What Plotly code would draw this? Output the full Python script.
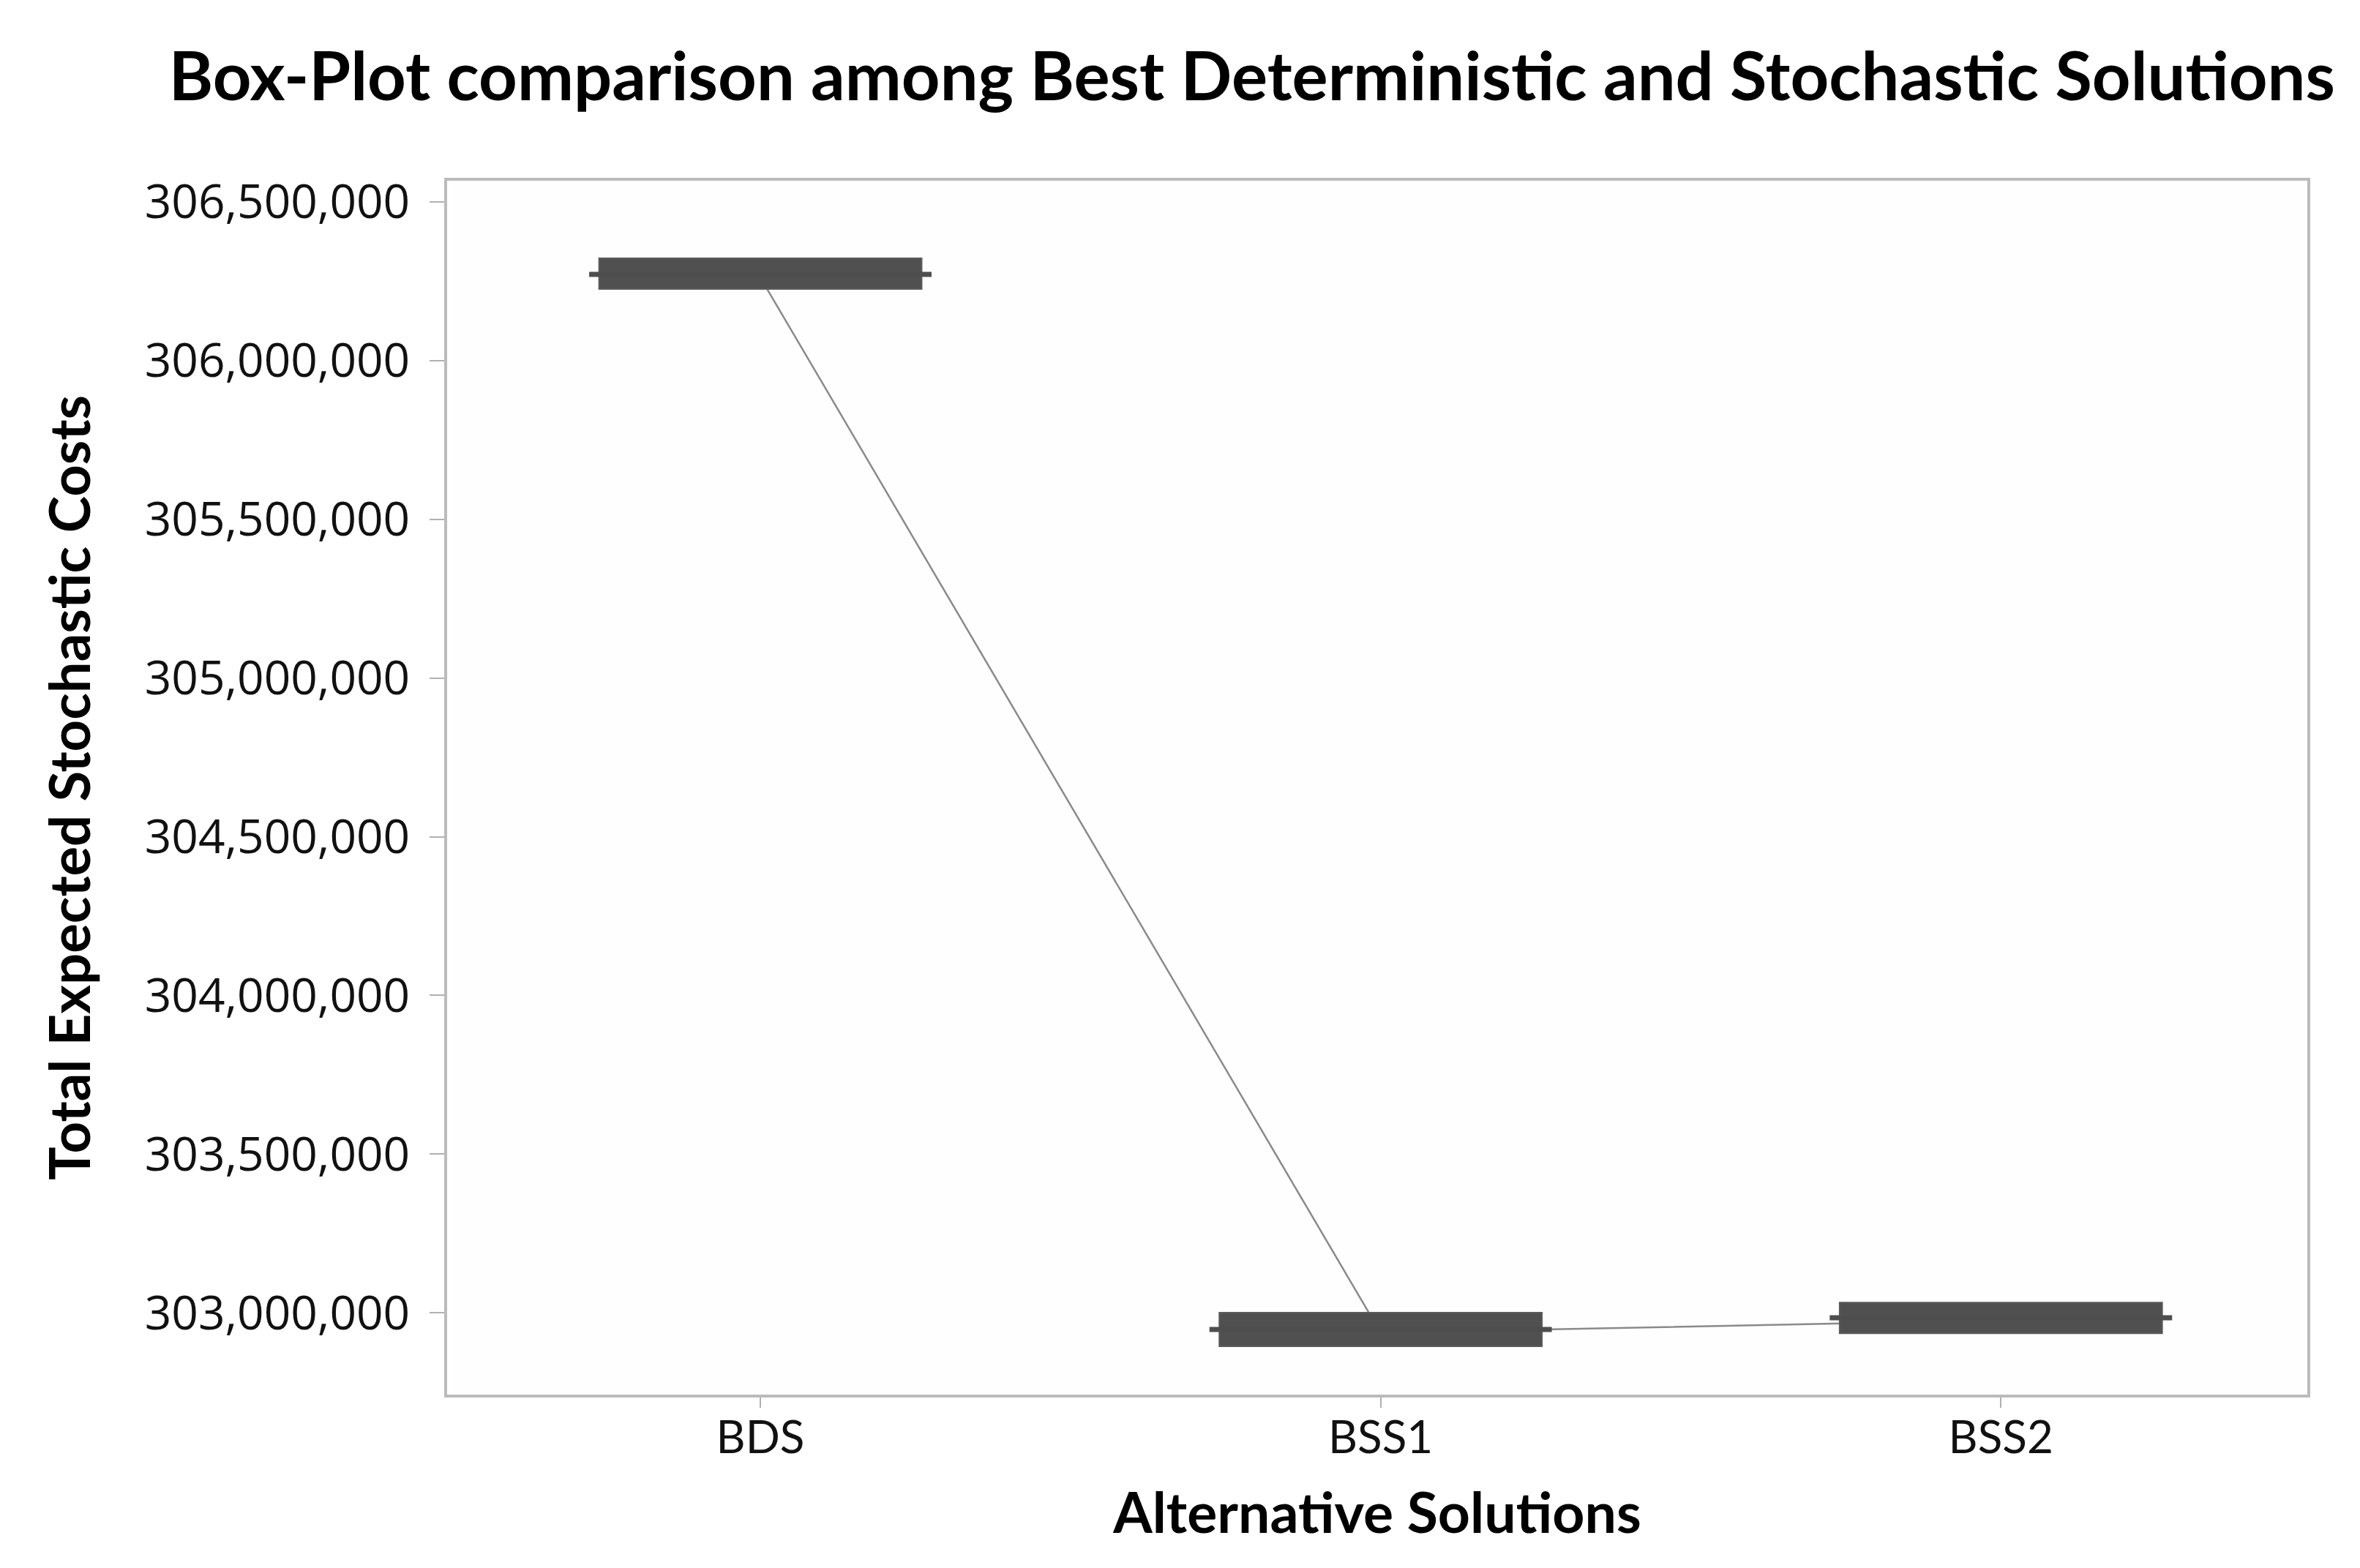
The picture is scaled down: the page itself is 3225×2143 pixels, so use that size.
import plotly.graph_objects as go

categories = ["BDS", "BSS1", "BSS2"]
q1_vals = [306225600, 302894000, 302935000]
median_vals = [306271700, 302947000, 302984000]
q3_vals = [306322500, 303000000, 303032000]
mean_vals = [306262000, 302937000, 302976000]
y_ticks = [303000000, 303500000, 304000000, 304500000, 305000000,
           305500000, 306000000, 306500000]

pos = list(range(len(categories)))
box_width = 0.52
stub_half = 0.276
dark = "#4e4e4e"
x_range = [-0.505, 2.494]
y_range = [302742000, 306567000]

fig = go.Figure()

# connect-means line on the base axes (beneath the boxes)
fig.add_trace(go.Scatter(
    x=pos, y=mean_vals, mode="lines",
    line=dict(color="#8a8a8a", width=2.5),
    showlegend=False, hoverinfo="skip"))

# horizontal whisker stubs at the median level (overlay axes)
for i, m in zip(pos, median_vals):
    fig.add_trace(go.Scatter(
        x=[i - stub_half, i + stub_half], y=[m, m], mode="lines",
        line=dict(color=dark, width=7), xaxis="x2", yaxis="y2",
        showlegend=False, hoverinfo="skip"))

fig.add_trace(go.Box(
    x=pos, q1=q1_vals, median=median_vals, q3=q3_vals,
    lowerfence=q1_vals, upperfence=q3_vals,
    width=box_width, fillcolor="#505050",
    line=dict(color="#5a5a5a", width=2),
    whiskerwidth=0, showlegend=False, boxpoints=False,
    xaxis="x2", yaxis="y2"))

fig.update_layout(
    width=3225, height=2143,
    paper_bgcolor="white", plot_bgcolor="#fefefe",
    margin=dict(l=603, r=80, t=239, b=245),
    title=dict(
        text="<b>Box-Plot comparison among Best Deterministic and Stochastic Solutions</b>",
        font=dict(family="Lato", size=92, color="black"),
        x=0.528, xanchor="center", y=0.955, yanchor="middle"),
    xaxis=dict(
        range=x_range,
        tickvals=pos, ticktext=categories,
        tickfont=dict(family="Lato", size=62, color="#111111"),
        ticks="outside", ticklen=14, tickcolor="#b0b0b0", tickwidth=2,
        ticklabelstandoff=-12,
        showline=True, linecolor="#bbbbbb", linewidth=4, mirror=True,
        showgrid=False, zeroline=False,
        title=dict(text="<b>Alternative Solutions</b>",
                   font=dict(family="Lato", size=77, color="black"),
                   standoff=44),
    ),
    yaxis=dict(
        range=y_range,
        tickvals=y_ticks, tickformat=",d",
        tickfont=dict(family="Open Sans", size=64, color="#111111"),
        ticks="outside", ticklen=20, tickcolor="#b0b0b0", tickwidth=2,
        ticklabelstandoff=14,
        showline=True, linecolor="#bbbbbb", linewidth=4, mirror=True,
        showgrid=False, zeroline=False,
        title=dict(text="<b>Total Expected Stochastic Costs</b>",
                   font=dict(family="Lato", size=76, color="black"),
                   standoff=50),
    ),
    xaxis2=dict(overlaying="x", range=x_range, visible=False),
    yaxis2=dict(overlaying="y", range=y_range, visible=False),
)

fig.write_html("out.html")
